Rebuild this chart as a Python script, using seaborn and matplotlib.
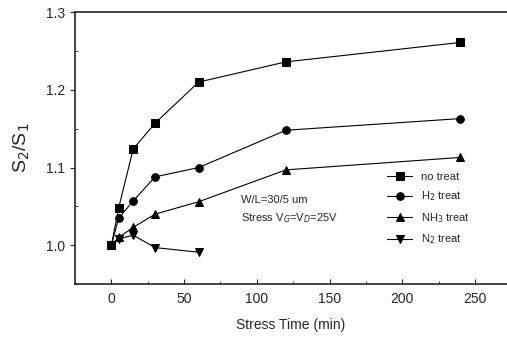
import pandas as pd
import numpy as np
import matplotlib
matplotlib.use('Agg')
import matplotlib.pyplot as plt
import seaborn as sns
from matplotlib.ticker import MultipleLocator

# stress times (min)
stress_time = [0, 5, 15, 30, 60, 120, 240]
stress_time_n2 = [0, 5, 15, 30, 60]

# S2/S1 for each treatment
no_treat = [1.000, 1.048, 1.124, 1.157, 1.210, 1.236, 1.261]
h2_treat = [1.000, 1.035, 1.057, 1.088, 1.100, 1.148, 1.163]
nh3_treat = [1.000, 1.010, 1.023, 1.040, 1.056, 1.097, 1.113]
n2_treat = [1.000, 1.008, 1.013, 0.997, 0.991]

labels = ['no treat', 'H$_2$ treat', 'NH$_3$ treat', 'N$_2$ treat']

# long format dataframe
frames = []
for lab, xs, ys in zip(labels,
                       [stress_time, stress_time, stress_time, stress_time_n2],
                       [no_treat, h2_treat, nh3_treat, n2_treat]):
    frames.append(pd.DataFrame({'time': xs, 'ratio': ys, 'series': lab}))
df = pd.concat(frames, ignore_index=True)

sns.set_style('ticks')
plt.rcParams['font.family'] = ['Liberation Sans', 'DejaVu Sans']

fig = plt.figure(figsize=(5.07, 3.37), dpi=100)
ax = fig.add_axes([0.148, 0.157, 0.852, 0.807])

sns.lineplot(data=df, x='time', y='ratio', hue='series', style='series',
             palette=['black'] * 4, markers=['s', 'o', '^', 'v'], dashes=False,
             markersize=5.5, linewidth=0.8, markeredgecolor='black', ax=ax)

ax.set_xlim(-25, 272)
ax.set_ylim(0.95, 1.3)
ax.xaxis.set_major_locator(MultipleLocator(50))
ax.xaxis.set_minor_locator(MultipleLocator(25))
ax.yaxis.set_major_locator(MultipleLocator(0.1))
ax.yaxis.set_minor_locator(MultipleLocator(0.05))
ax.yaxis.set_major_formatter(matplotlib.ticker.FormatStrFormatter('%.1f'))
ax.tick_params(axis='x', which='both', direction='in', labelsize=10, pad=6)
ax.tick_params(axis='x', which='minor', length=2.5)
ax.tick_params(axis='y', which='major', direction='out', labelsize=10)
ax.tick_params(axis='y', which='minor', direction='in', length=2.5)
ax.spines['right'].set_visible(False)
for s in ['left', 'bottom', 'top']:
    ax.spines[s].set_linewidth(1.2)

ax.set_xlabel('Stress Time (min)', fontsize=10, labelpad=8)
ax.set_ylabel('S$_2$/S$_1$', fontsize=14, labelpad=10)

ax.text(0.385, 0.30, 'W/L=30/5 um', transform=ax.transAxes, fontsize=8)
ax.text(0.385, 0.23, 'Stress V$_{G}$=V$_{D}$=25V', transform=ax.transAxes,
        fontsize=8)

leg = ax.legend(loc='upper left', bbox_to_anchor=(0.7, 0.45), frameon=False,
                fontsize=8, handlelength=2.2, labelspacing=0.7)

fig.savefig('out.png', dpi=100)
